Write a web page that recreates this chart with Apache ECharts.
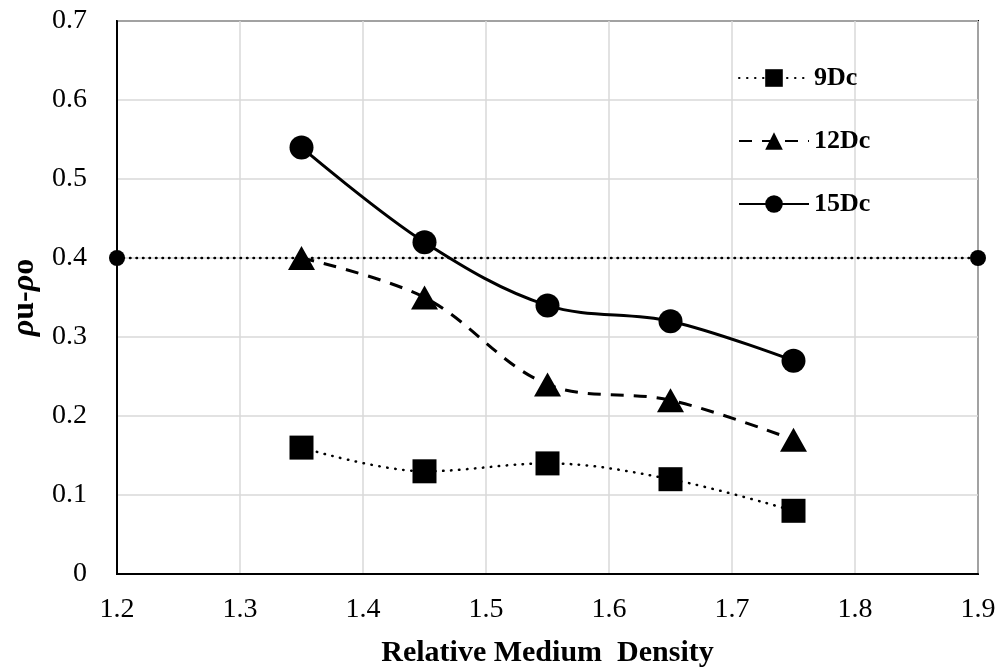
<!DOCTYPE html>
<html><head><meta charset="utf-8">
<script src="https://cdn.jsdelivr.net/npm/echarts@6/dist/echarts.min.js"></script>
<style>html,body{margin:0;padding:0;background:#fff}#c{width:1002px;height:668px}</style>
</head><body><div id="c"></div>
<script>
const xValues = [1.35, 1.45, 1.55, 1.65, 1.75];
const s9Dc = [0.16, 0.13, 0.14, 0.12, 0.08];
const s12Dc = [0.40, 0.35, 0.24, 0.22, 0.17];
const s15Dc = [0.54, 0.42, 0.34, 0.32, 0.27];
const refLineX = [1.2, 1.9];
const refLineY = [0.4, 0.4];
const seriesNames = ['9Dc', '12Dc', '15Dc'];

const FONT = '"Liberation Serif", "Times New Roman", serif';
const pair = (xs, ys) => xs.map((x, i) => [x, ys[i]]);

const chart = echarts.init(document.getElementById('c'));
chart.setOption({
  animation: false,
  backgroundColor: '#fff',
  grid: { left: 117, right: 24, top: 21, bottom: 94, show: true, borderColor: '#000', borderWidth: 2,
    containLabel: false, outerBoundsMode: 'none' },
  legend: {
    orient: 'vertical', left: 733, top: 60, itemWidth: 70, itemHeight: 22, itemGap: 37,
    data: seriesNames,
    textStyle: { fontFamily: FONT, fontWeight: 'bold', fontSize: 26, color: '#000' }
  },
  xAxis: {
    type: 'value', min: 1.2, max: 1.9, interval: 0.1,
    name: 'Relative Medium  Density', nameLocation: 'middle', nameGap: 64,
    nameTextStyle: { fontFamily: FONT, fontWeight: 'bold', fontSize: 30, color: '#000' },
    axisLine: { show: true, lineStyle: { color: '#000', width: 2 } },
    axisTick: { show: false },
    axisLabel: { fontFamily: FONT, fontSize: 28, color: '#000', margin: 22, formatter: v => v.toFixed(1) },
    splitLine: { show: true, lineStyle: { color: '#d9d9d9', width: 1.5 } }
  },
  yAxis: {
    type: 'value', min: 0, max: 0.7, interval: 0.1,
    name: '{i|ρ}u-{i|ρ}o', nameLocation: 'middle', nameGap: 76, nameRotate: 90,
    nameTextStyle: { fontFamily: FONT, fontWeight: 'bold', fontSize: 32, color: '#000',
      rich: { i: { fontFamily: FONT, fontStyle: 'italic', fontWeight: 'bold', fontSize: 32, color: '#000' } } },
    axisLine: { show: true, lineStyle: { color: '#000', width: 2 } },
    axisTick: { show: false },
    axisLabel: { fontFamily: FONT, fontSize: 28, color: '#000', margin: 30, formatter: v => v === 0 ? '0' : v.toFixed(1) },
    splitLine: { show: true, lineStyle: { color: '#d9d9d9', width: 1.5 } }
  },
  series: [
    { name: 'ref', type: 'line', data: pair(refLineX, refLineY), symbol: 'circle', symbolSize: 16,
      itemStyle: { color: '#000' }, lineStyle: { color: '#000', width: 2.5, type: [0.5, 6], cap: 'round' }, z: 1, silent: true },
    { name: '9Dc', type: 'line', data: pair(xValues, s9Dc), smooth: 0.35, symbol: 'rect', symbolSize: 24,
      itemStyle: { color: '#000' }, lineStyle: { color: '#000', width: 2.5, type: [0.5, 7.5], cap: 'round' } },
    { name: '12Dc', type: 'line', data: pair(xValues, s12Dc), smooth: 0.35, symbol: 'triangle', symbolSize: [27, 24],
      itemStyle: { color: '#000' }, lineStyle: { color: '#000', width: 3, type: [13, 10] } },
    { name: '15Dc', type: 'line', data: pair(xValues, s15Dc), smooth: 0.35, symbol: 'circle', symbolSize: 24,
      itemStyle: { color: '#000' }, lineStyle: { color: '#000', width: 3, type: 'solid' } }
  ]
});
</script></body></html>
